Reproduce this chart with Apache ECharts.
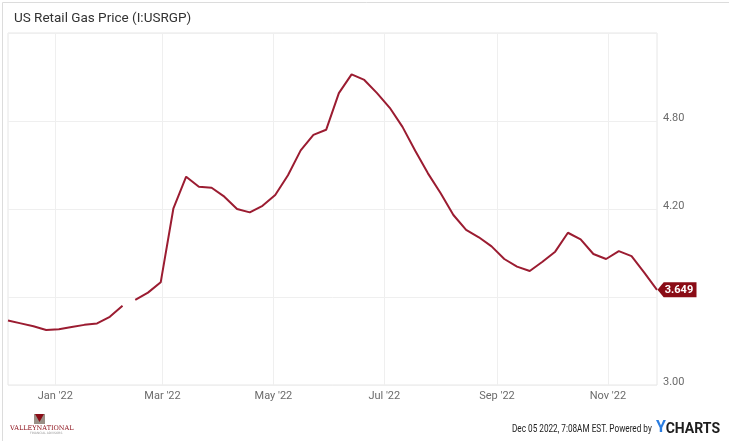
<!DOCTYPE html>
<html>
<head>
<meta charset="utf-8">
<script src="https://cdn.jsdelivr.net/npm/echarts@6/dist/echarts.min.js"></script>
<style>
html,body{margin:0;padding:0;background:#fff;}
#chart{width:729px;height:441px;}
</style>
</head>
<body>
<div id="chart"></div>
<script>
// Weekly dates (Monday) and prices
const dates = [
  '2021-12-06','2021-12-13','2021-12-20','2021-12-27',
  '2022-01-03','2022-01-10','2022-01-17','2022-01-24','2022-01-31',
  '2022-02-07','2022-02-14','2022-02-21','2022-02-28',
  '2022-03-07','2022-03-14','2022-03-21','2022-03-28',
  '2022-04-04','2022-04-11','2022-04-18','2022-04-25',
  '2022-05-02','2022-05-09','2022-05-16','2022-05-23','2022-05-30',
  '2022-06-06','2022-06-13','2022-06-20','2022-06-27',
  '2022-07-04','2022-07-11','2022-07-18','2022-07-25',
  '2022-08-01','2022-08-08','2022-08-15','2022-08-22','2022-08-29',
  '2022-09-05','2022-09-12','2022-09-19','2022-09-26',
  '2022-10-03','2022-10-10','2022-10-17','2022-10-24','2022-10-31',
  '2022-11-07','2022-11-14','2022-11-21','2022-11-28'
];
const prices = [
  3.440,3.420,3.400,3.375,
  3.380,3.395,3.410,3.420,3.465,
  3.540,3.580,3.630,3.700,
  4.205,4.420,4.352,4.345,
  4.284,4.200,4.177,4.222,
  4.295,4.430,4.600,4.705,4.740,
  4.990,5.118,5.080,4.990,
  4.890,4.760,4.597,4.443,
  4.307,4.159,4.057,4.007,3.945,
  3.859,3.807,3.777,3.840,
  3.909,4.038,3.993,3.893,3.859,
  3.913,3.879,3.766,3.649
];
// a break in the line between these reporting weeks
const gapDates = ['2022-02-10'];
// x-axis tick months
const xTicks = ['2022-01-01','2022-03-01','2022-05-01','2022-07-01','2022-09-01','2022-11-01'];
const yTickLabels = ['3.00','4.20','4.80'];
const lastLabel = '3.649';

const monthNames = ['Jan','Feb','Mar','Apr','May','Jun','Jul','Aug','Sep','Oct','Nov','Dec'];
const ts = s => { const p = s.split('-'); return Date.UTC(+p[0], +p[1]-1, +p[2]); };

const seriesData = dates.map((d,i)=>[ts(d), prices[i]]);
gapDates.forEach(g => seriesData.push([ts(g), null]));
seriesData.sort((a,b)=>a[0]-b[0]);

const lineColor = '#9b1c31';
const gridColor = '#efefef';
const labelColor = '#6b6b6b';

const chart = echarts.init(document.getElementById('chart'), null, {renderer:'canvas'});
chart.setOption({
  animation:false,
  backgroundColor:'#fff',
  textStyle:{fontFamily:'Roboto'},
  title:{
    text:'US Retail Gas Price (I:USRGP)',
    left:9, top:7,
    textStyle:{fontFamily:'Roboto', fontSize:13.5, fontWeight:'normal', color:'#333'}
  },
  grid:{left:8, right:72, top:33, bottom:56, show:true, borderColor:'#e6e6e6', borderWidth:1},
  xAxis:{
    type:'value',
    min: ts(dates[0]),
    max: ts(dates[dates.length-1]),
    axisLine:{show:false},
    axisTick:{show:false, customValues: xTicks.map(ts)},
    splitLine:{show:true, lineStyle:{color:gridColor, width:1}},
    axisLabel:{
      customValues: xTicks.map(ts),
      color:labelColor, fontSize:11, margin:6, fontFamily:'Roboto',
      formatter: v => { const d = new Date(v); return monthNames[d.getUTCMonth()] + " '" + String(d.getUTCFullYear()).slice(2); }
    }
  },
  yAxis:{
    type:'value',
    position:'right',
    min:3.0, max:5.4, interval:0.6,
    axisLine:{show:false},
    axisTick:{show:false},
    splitLine:{show:true, lineStyle:{color:gridColor, width:1}},
    axisLabel:{
      color:labelColor, fontSize:11, margin:6, fontFamily:'Roboto',
      verticalAlign:'bottom', lineHeight:6,
      formatter: v => { const s = v.toFixed(2); return yTickLabels.indexOf(s) >= 0 ? s : ''; }
    }
  },
  series:[{
    type:'line',
    data: seriesData,
    showSymbol:false,
    connectNulls:false,
    lineStyle:{color:lineColor, width:2},
    itemStyle:{color:lineColor},
    markPoint:{
      symbol:'path://M0,7 L6,0 L38,0 L38,14 L6,14 Z',
      symbolSize:[39,15],
      symbolKeepAspect:false,
      symbolOffset:[20,0],
      itemStyle:{color:'#8a0c16'},
      label:{show:true, formatter:lastLabel, color:'#fff', fontSize:11, fontWeight:'bold', fontFamily:'Roboto', offset:[2,0]},
      data:[{coord:[ts(dates[dates.length-1]), prices[prices.length-1]]}]
    }
  }],
  graphic:[
    {type:'rect', left:0, top:0, shape:{x:0.5,y:0.5,width:728,height:440}, style:{fill:'none', stroke:'#dcdcdc', lineWidth:1}, silent:true},
    {type:'rect', left:34, top:414, shape:{width:11,height:10}, style:{fill:'#9a8f86'}},
    {type:'polygon', shape:{points:[[35,414],[44,414],[39.5,422]]}, style:{fill:'#8a0c16'}},
    {type:'text', left:10, top:425, style:{text:'VALLEYNATIONAL', fontSize:6.5, fill:'#8a0c16', fontFamily:'DejaVu Serif'}},
    {type:'text', left:30, top:432, style:{text:'FINANCIAL ADVISORS', fontSize:3, fill:'#999', fontFamily:'DejaVu Sans'}},
    {type:'text', x:512, y:424, scaleX:0.78, style:{x:0, y:0, text:'Dec 05 2022, 7:08AM EST. Powered by', fontSize:10.5, fill:'#222', fontFamily:'Roboto'}},
    {type:'text', right:63, top:420, style:{text:'Y', fontSize:16, fontWeight:'bold', fill:'#2a7de1', fontFamily:'Roboto'}},
    {type:'text', right:9, top:422, style:{text:'CHARTS', fontSize:14, fontWeight:'bold', fill:'#1d1d1d', fontFamily:'Roboto'}}
  ]
});
</script>
</body>
</html>
